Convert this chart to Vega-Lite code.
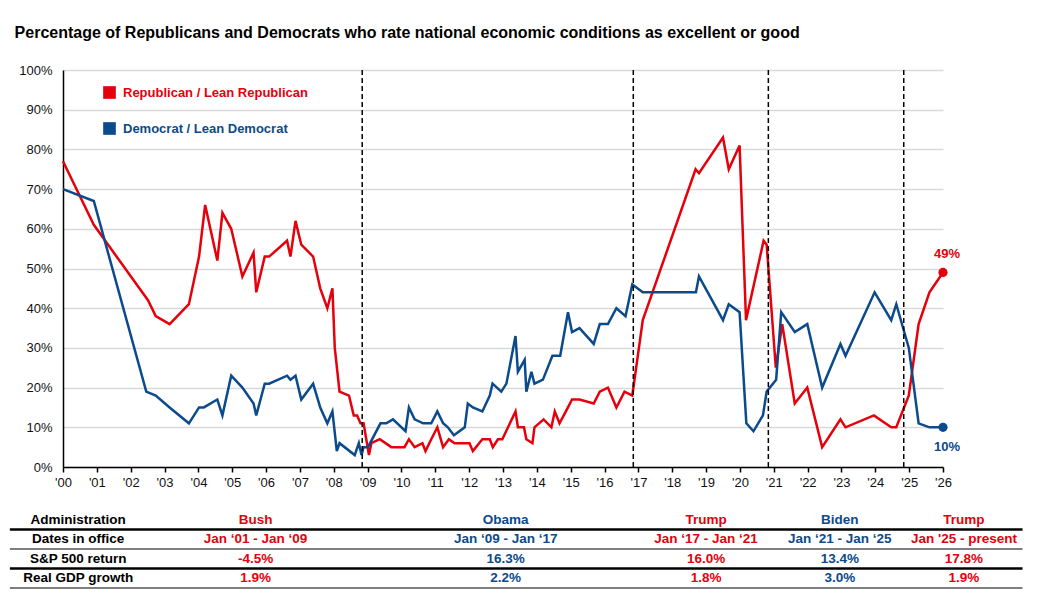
{
  "$schema": "https://vega.github.io/schema/vega-lite/v6.json",
  "padding": {"left": 8, "top": 25, "right": 10, "bottom": 5},
  "title": {
    "text": "Percentage of Republicans and Democrats who rate national economic conditions as excellent or good",
    "anchor": "start",
    "fontSize": 16,
    "fontWeight": "bold",
    "color": "#000000",
    "offset": 23,
    "dx": 6
  },
  "config": {
    "font": "Liberation Sans",
    "view": {"stroke": null}
  },
  "datasets": {
    "survey": [
      {"party": "Republican / Lean Republican", "year": 2000.0, "pct": 0.77},
      {"party": "Republican / Lean Republican", "year": 2000.91, "pct": 0.61},
      {"party": "Republican / Lean Republican", "year": 2002.51, "pct": 0.42},
      {"party": "Republican / Lean Republican", "year": 2002.74, "pct": 0.38},
      {"party": "Republican / Lean Republican", "year": 2003.15, "pct": 0.36},
      {"party": "Republican / Lean Republican", "year": 2003.72, "pct": 0.41},
      {"party": "Republican / Lean Republican", "year": 2004.02, "pct": 0.53},
      {"party": "Republican / Lean Republican", "year": 2004.2, "pct": 0.66},
      {"party": "Republican / Lean Republican", "year": 2004.56, "pct": 0.52},
      {"party": "Republican / Lean Republican", "year": 2004.71, "pct": 0.64},
      {"party": "Republican / Lean Republican", "year": 2004.97, "pct": 0.60},
      {"party": "Republican / Lean Republican", "year": 2005.3, "pct": 0.48},
      {"party": "Republican / Lean Republican", "year": 2005.63, "pct": 0.54},
      {"party": "Republican / Lean Republican", "year": 2005.71, "pct": 0.44},
      {"party": "Republican / Lean Republican", "year": 2005.96, "pct": 0.53},
      {"party": "Republican / Lean Republican", "year": 2006.09, "pct": 0.53},
      {"party": "Republican / Lean Republican", "year": 2006.62, "pct": 0.57},
      {"party": "Republican / Lean Republican", "year": 2006.72, "pct": 0.53},
      {"party": "Republican / Lean Republican", "year": 2006.87, "pct": 0.62},
      {"party": "Republican / Lean Republican", "year": 2007.04, "pct": 0.56},
      {"party": "Republican / Lean Republican", "year": 2007.39, "pct": 0.53},
      {"party": "Republican / Lean Republican", "year": 2007.6, "pct": 0.45},
      {"party": "Republican / Lean Republican", "year": 2007.81, "pct": 0.40},
      {"party": "Republican / Lean Republican", "year": 2007.96, "pct": 0.45},
      {"party": "Republican / Lean Republican", "year": 2008.03, "pct": 0.30},
      {"party": "Republican / Lean Republican", "year": 2008.17, "pct": 0.19},
      {"party": "Republican / Lean Republican", "year": 2008.45, "pct": 0.18},
      {"party": "Republican / Lean Republican", "year": 2008.59, "pct": 0.13},
      {"party": "Republican / Lean Republican", "year": 2008.69, "pct": 0.13},
      {"party": "Republican / Lean Republican", "year": 2008.79, "pct": 0.11},
      {"party": "Republican / Lean Republican", "year": 2008.88, "pct": 0.11},
      {"party": "Republican / Lean Republican", "year": 2009.04, "pct": 0.03},
      {"party": "Republican / Lean Republican", "year": 2009.11, "pct": 0.06},
      {"party": "Republican / Lean Republican", "year": 2009.36, "pct": 0.07},
      {"party": "Republican / Lean Republican", "year": 2009.7, "pct": 0.05},
      {"party": "Republican / Lean Republican", "year": 2010.09, "pct": 0.05},
      {"party": "Republican / Lean Republican", "year": 2010.22, "pct": 0.07},
      {"party": "Republican / Lean Republican", "year": 2010.39, "pct": 0.05},
      {"party": "Republican / Lean Republican", "year": 2010.62, "pct": 0.06},
      {"party": "Republican / Lean Republican", "year": 2010.71, "pct": 0.04},
      {"party": "Republican / Lean Republican", "year": 2010.88, "pct": 0.07},
      {"party": "Republican / Lean Republican", "year": 2011.06, "pct": 0.10},
      {"party": "Republican / Lean Republican", "year": 2011.23, "pct": 0.05},
      {"party": "Republican / Lean Republican", "year": 2011.4, "pct": 0.07},
      {"party": "Republican / Lean Republican", "year": 2011.57, "pct": 0.06},
      {"party": "Republican / Lean Republican", "year": 2012.01, "pct": 0.06},
      {"party": "Republican / Lean Republican", "year": 2012.11, "pct": 0.04},
      {"party": "Republican / Lean Republican", "year": 2012.39, "pct": 0.07},
      {"party": "Republican / Lean Republican", "year": 2012.61, "pct": 0.07},
      {"party": "Republican / Lean Republican", "year": 2012.7, "pct": 0.05},
      {"party": "Republican / Lean Republican", "year": 2012.85, "pct": 0.07},
      {"party": "Republican / Lean Republican", "year": 2012.98, "pct": 0.07},
      {"party": "Republican / Lean Republican", "year": 2013.37, "pct": 0.14},
      {"party": "Republican / Lean Republican", "year": 2013.44, "pct": 0.10},
      {"party": "Republican / Lean Republican", "year": 2013.62, "pct": 0.10},
      {"party": "Republican / Lean Republican", "year": 2013.69, "pct": 0.07},
      {"party": "Republican / Lean Republican", "year": 2013.87, "pct": 0.06},
      {"party": "Republican / Lean Republican", "year": 2013.93, "pct": 0.10},
      {"party": "Republican / Lean Republican", "year": 2014.2, "pct": 0.12},
      {"party": "Republican / Lean Republican", "year": 2014.43, "pct": 0.10},
      {"party": "Republican / Lean Republican", "year": 2014.53, "pct": 0.14},
      {"party": "Republican / Lean Republican", "year": 2014.67, "pct": 0.11},
      {"party": "Republican / Lean Republican", "year": 2014.92, "pct": 0.15},
      {"party": "Republican / Lean Republican", "year": 2015.04, "pct": 0.17},
      {"party": "Republican / Lean Republican", "year": 2015.26, "pct": 0.17},
      {"party": "Republican / Lean Republican", "year": 2015.68, "pct": 0.16},
      {"party": "Republican / Lean Republican", "year": 2015.86, "pct": 0.19},
      {"party": "Republican / Lean Republican", "year": 2016.1, "pct": 0.20},
      {"party": "Republican / Lean Republican", "year": 2016.35, "pct": 0.15},
      {"party": "Republican / Lean Republican", "year": 2016.59, "pct": 0.19},
      {"party": "Republican / Lean Republican", "year": 2016.82, "pct": 0.18},
      {"party": "Republican / Lean Republican", "year": 2017.13, "pct": 0.37},
      {"party": "Republican / Lean Republican", "year": 2018.69, "pct": 0.75},
      {"party": "Republican / Lean Republican", "year": 2018.79, "pct": 0.74},
      {"party": "Republican / Lean Republican", "year": 2019.5, "pct": 0.83},
      {"party": "Republican / Lean Republican", "year": 2019.67, "pct": 0.75},
      {"party": "Republican / Lean Republican", "year": 2019.99, "pct": 0.81},
      {"party": "Republican / Lean Republican", "year": 2020.18, "pct": 0.37},
      {"party": "Republican / Lean Republican", "year": 2020.7, "pct": 0.57},
      {"party": "Republican / Lean Republican", "year": 2020.79, "pct": 0.56},
      {"party": "Republican / Lean Republican", "year": 2021.06, "pct": 0.25},
      {"party": "Republican / Lean Republican", "year": 2021.25, "pct": 0.36},
      {"party": "Republican / Lean Republican", "year": 2021.62, "pct": 0.16},
      {"party": "Republican / Lean Republican", "year": 2021.99, "pct": 0.20},
      {"party": "Republican / Lean Republican", "year": 2022.43, "pct": 0.05},
      {"party": "Republican / Lean Republican", "year": 2022.97, "pct": 0.12},
      {"party": "Republican / Lean Republican", "year": 2023.12, "pct": 0.10},
      {"party": "Republican / Lean Republican", "year": 2023.96, "pct": 0.13},
      {"party": "Republican / Lean Republican", "year": 2024.47, "pct": 0.10},
      {"party": "Republican / Lean Republican", "year": 2024.62, "pct": 0.10},
      {"party": "Republican / Lean Republican", "year": 2024.99, "pct": 0.18},
      {"party": "Republican / Lean Republican", "year": 2025.28, "pct": 0.36},
      {"party": "Republican / Lean Republican", "year": 2025.6, "pct": 0.44},
      {"party": "Republican / Lean Republican", "year": 2026.0, "pct": 0.49},
      {"party": "Democrat / Lean Democrat", "year": 2000.0, "pct": 0.70},
      {"party": "Democrat / Lean Democrat", "year": 2000.91, "pct": 0.67},
      {"party": "Democrat / Lean Democrat", "year": 2002.46, "pct": 0.19},
      {"party": "Democrat / Lean Democrat", "year": 2002.74, "pct": 0.18},
      {"party": "Democrat / Lean Democrat", "year": 2003.15, "pct": 0.15},
      {"party": "Democrat / Lean Democrat", "year": 2003.72, "pct": 0.11},
      {"party": "Democrat / Lean Democrat", "year": 2004.02, "pct": 0.15},
      {"party": "Democrat / Lean Democrat", "year": 2004.16, "pct": 0.15},
      {"party": "Democrat / Lean Democrat", "year": 2004.56, "pct": 0.17},
      {"party": "Democrat / Lean Democrat", "year": 2004.71, "pct": 0.13},
      {"party": "Democrat / Lean Democrat", "year": 2004.97, "pct": 0.23},
      {"party": "Democrat / Lean Democrat", "year": 2005.3, "pct": 0.20},
      {"party": "Democrat / Lean Democrat", "year": 2005.63, "pct": 0.16},
      {"party": "Democrat / Lean Democrat", "year": 2005.71, "pct": 0.13},
      {"party": "Democrat / Lean Democrat", "year": 2005.96, "pct": 0.21},
      {"party": "Democrat / Lean Democrat", "year": 2006.09, "pct": 0.21},
      {"party": "Democrat / Lean Democrat", "year": 2006.62, "pct": 0.23},
      {"party": "Democrat / Lean Democrat", "year": 2006.72, "pct": 0.22},
      {"party": "Democrat / Lean Democrat", "year": 2006.87, "pct": 0.23},
      {"party": "Democrat / Lean Democrat", "year": 2007.04, "pct": 0.17},
      {"party": "Democrat / Lean Democrat", "year": 2007.39, "pct": 0.21},
      {"party": "Democrat / Lean Democrat", "year": 2007.6, "pct": 0.15},
      {"party": "Democrat / Lean Democrat", "year": 2007.81, "pct": 0.11},
      {"party": "Democrat / Lean Democrat", "year": 2007.96, "pct": 0.14},
      {"party": "Democrat / Lean Democrat", "year": 2008.09, "pct": 0.04},
      {"party": "Democrat / Lean Democrat", "year": 2008.17, "pct": 0.06},
      {"party": "Democrat / Lean Democrat", "year": 2008.62, "pct": 0.03},
      {"party": "Democrat / Lean Democrat", "year": 2008.74, "pct": 0.06},
      {"party": "Democrat / Lean Democrat", "year": 2008.82, "pct": 0.03},
      {"party": "Democrat / Lean Democrat", "year": 2008.88, "pct": 0.05},
      {"party": "Democrat / Lean Democrat", "year": 2009.01, "pct": 0.05},
      {"party": "Democrat / Lean Democrat", "year": 2009.38, "pct": 0.11},
      {"party": "Democrat / Lean Democrat", "year": 2009.55, "pct": 0.11},
      {"party": "Democrat / Lean Democrat", "year": 2009.75, "pct": 0.12},
      {"party": "Democrat / Lean Democrat", "year": 2010.12, "pct": 0.09},
      {"party": "Democrat / Lean Democrat", "year": 2010.22, "pct": 0.15},
      {"party": "Democrat / Lean Democrat", "year": 2010.39, "pct": 0.12},
      {"party": "Democrat / Lean Democrat", "year": 2010.64, "pct": 0.11},
      {"party": "Democrat / Lean Democrat", "year": 2010.88, "pct": 0.11},
      {"party": "Democrat / Lean Democrat", "year": 2011.06, "pct": 0.14},
      {"party": "Democrat / Lean Democrat", "year": 2011.23, "pct": 0.11},
      {"party": "Democrat / Lean Democrat", "year": 2011.37, "pct": 0.10},
      {"party": "Democrat / Lean Democrat", "year": 2011.55, "pct": 0.08},
      {"party": "Democrat / Lean Democrat", "year": 2011.87, "pct": 0.10},
      {"party": "Democrat / Lean Democrat", "year": 2011.96, "pct": 0.16},
      {"party": "Democrat / Lean Democrat", "year": 2012.11, "pct": 0.15},
      {"party": "Democrat / Lean Democrat", "year": 2012.39, "pct": 0.14},
      {"party": "Democrat / Lean Democrat", "year": 2012.61, "pct": 0.18},
      {"party": "Democrat / Lean Democrat", "year": 2012.69, "pct": 0.21},
      {"party": "Democrat / Lean Democrat", "year": 2012.95, "pct": 0.19},
      {"party": "Democrat / Lean Democrat", "year": 2013.1, "pct": 0.21},
      {"party": "Democrat / Lean Democrat", "year": 2013.37, "pct": 0.33},
      {"party": "Democrat / Lean Democrat", "year": 2013.44, "pct": 0.24},
      {"party": "Democrat / Lean Democrat", "year": 2013.64, "pct": 0.27},
      {"party": "Democrat / Lean Democrat", "year": 2013.69, "pct": 0.19},
      {"party": "Democrat / Lean Democrat", "year": 2013.84, "pct": 0.24},
      {"party": "Democrat / Lean Democrat", "year": 2013.93, "pct": 0.21},
      {"party": "Democrat / Lean Democrat", "year": 2014.18, "pct": 0.22},
      {"party": "Democrat / Lean Democrat", "year": 2014.46, "pct": 0.28},
      {"party": "Democrat / Lean Democrat", "year": 2014.69, "pct": 0.28},
      {"party": "Democrat / Lean Democrat", "year": 2014.92, "pct": 0.39},
      {"party": "Democrat / Lean Democrat", "year": 2015.04, "pct": 0.34},
      {"party": "Democrat / Lean Democrat", "year": 2015.26, "pct": 0.35},
      {"party": "Democrat / Lean Democrat", "year": 2015.68, "pct": 0.31},
      {"party": "Democrat / Lean Democrat", "year": 2015.86, "pct": 0.36},
      {"party": "Democrat / Lean Democrat", "year": 2016.1, "pct": 0.36},
      {"party": "Democrat / Lean Democrat", "year": 2016.35, "pct": 0.40},
      {"party": "Democrat / Lean Democrat", "year": 2016.62, "pct": 0.38},
      {"party": "Democrat / Lean Democrat", "year": 2016.82, "pct": 0.46},
      {"party": "Democrat / Lean Democrat", "year": 2017.13, "pct": 0.44},
      {"party": "Democrat / Lean Democrat", "year": 2018.7, "pct": 0.44},
      {"party": "Democrat / Lean Democrat", "year": 2018.79, "pct": 0.48},
      {"party": "Democrat / Lean Democrat", "year": 2019.5, "pct": 0.37},
      {"party": "Democrat / Lean Democrat", "year": 2019.67, "pct": 0.41},
      {"party": "Democrat / Lean Democrat", "year": 2019.99, "pct": 0.39},
      {"party": "Democrat / Lean Democrat", "year": 2020.19, "pct": 0.11},
      {"party": "Democrat / Lean Democrat", "year": 2020.4, "pct": 0.09},
      {"party": "Democrat / Lean Democrat", "year": 2020.68, "pct": 0.13},
      {"party": "Democrat / Lean Democrat", "year": 2020.79, "pct": 0.19},
      {"party": "Democrat / Lean Democrat", "year": 2021.07, "pct": 0.22},
      {"party": "Democrat / Lean Democrat", "year": 2021.22, "pct": 0.39},
      {"party": "Democrat / Lean Democrat", "year": 2021.62, "pct": 0.34},
      {"party": "Democrat / Lean Democrat", "year": 2021.99, "pct": 0.36},
      {"party": "Democrat / Lean Democrat", "year": 2022.43, "pct": 0.20},
      {"party": "Democrat / Lean Democrat", "year": 2022.97, "pct": 0.31},
      {"party": "Democrat / Lean Democrat", "year": 2023.12, "pct": 0.28},
      {"party": "Democrat / Lean Democrat", "year": 2023.98, "pct": 0.44},
      {"party": "Democrat / Lean Democrat", "year": 2024.47, "pct": 0.37},
      {"party": "Democrat / Lean Democrat", "year": 2024.62, "pct": 0.41},
      {"party": "Democrat / Lean Democrat", "year": 2024.99, "pct": 0.30},
      {"party": "Democrat / Lean Democrat", "year": 2025.28, "pct": 0.11},
      {"party": "Democrat / Lean Democrat", "year": 2025.6, "pct": 0.10},
      {"party": "Democrat / Lean Democrat", "year": 2026.0, "pct": 0.10}
    ],
    "elections": [
      {"year": 2008.84, "label": "Election Day"},
      {"year": 2016.85, "label": ""},
      {"year": 2020.84, "label": ""},
      {"year": 2024.84, "label": ""}
    ],
    "cells": [
      {"row": "Administration", "at": 2000.45, "side": "label", "text": "Administration"},
      {"row": "Administration", "at": 2005.69, "side": "Republican", "text": "Bush"},
      {"row": "Administration", "at": 2013.08, "side": "Democrat", "text": "Obama"},
      {"row": "Administration", "at": 2019.0, "side": "Republican", "text": "Trump"},
      {"row": "Administration", "at": 2022.95, "side": "Democrat", "text": "Biden"},
      {"row": "Administration", "at": 2026.62, "side": "Republican", "text": "Trump"},
      {"row": "Dates in office", "at": 2000.45, "side": "label", "text": "Dates in office"},
      {"row": "Dates in office", "at": 2005.69, "side": "Republican", "text": "Jan ‘01 - Jan ‘09"},
      {"row": "Dates in office", "at": 2013.08, "side": "Democrat", "text": "Jan ‘09 - Jan ‘17"},
      {"row": "Dates in office", "at": 2019.0, "side": "Republican", "text": "Jan ‘17 - Jan ‘21"},
      {"row": "Dates in office", "at": 2022.95, "side": "Democrat", "text": "Jan ‘21 - Jan ‘25"},
      {"row": "Dates in office", "at": 2026.62, "side": "Republican", "text": "Jan '25 - present"},
      {"row": "S&P 500 return", "at": 2000.45, "side": "label", "text": "S&P 500 return"},
      {"row": "S&P 500 return", "at": 2005.69, "side": "Republican", "text": "-4.5%"},
      {"row": "S&P 500 return", "at": 2013.08, "side": "Democrat", "text": "16.3%"},
      {"row": "S&P 500 return", "at": 2019.0, "side": "Republican", "text": "16.0%"},
      {"row": "S&P 500 return", "at": 2022.95, "side": "Democrat", "text": "13.4%"},
      {"row": "S&P 500 return", "at": 2026.62, "side": "Republican", "text": "17.8%"},
      {"row": "Real GDP growth", "at": 2000.45, "side": "label", "text": "Real GDP growth"},
      {"row": "Real GDP growth", "at": 2005.69, "side": "Republican", "text": "1.9%"},
      {"row": "Real GDP growth", "at": 2013.08, "side": "Democrat", "text": "2.2%"},
      {"row": "Real GDP growth", "at": 2019.0, "side": "Republican", "text": "1.8%"},
      {"row": "Real GDP growth", "at": 2022.95, "side": "Democrat", "text": "3.0%"},
      {"row": "Real GDP growth", "at": 2026.62, "side": "Republican", "text": "1.9%"}
    ],
    "borders": [
      {"row": "Administration", "weight": "heavy"},
      {"row": "Dates in office", "weight": "light"},
      {"row": "S&P 500 return", "weight": "heavy"},
      {"row": "Real GDP growth", "weight": "light"}
    ]
  },
  "vconcat": [
    {
      "width": 880,
      "height": 397,
      "encoding": {
        "x": {
          "field": "year",
          "type": "quantitative",
          "scale": {"domain": [2000, 2026], "nice": false, "zero": false},
          "axis": {
            "title": null,
            "values": [2000, 2001, 2002, 2003, 2004, 2005, 2006, 2007, 2008, 2009, 2010, 2011, 2012, 2013, 2014, 2015, 2016, 2017, 2018, 2019, 2020, 2021, 2022, 2023, 2024, 2025, 2026],
            "tickCount": 60,
            "format": "d",
            "labelExpr": "\"'\" + slice(datum.label, 2)",
            "grid": false,
            "domainColor": "#000000",
            "domainWidth": 1.5,
            "tickColor": "#000000",
            "tickWidth": 1.5,
            "tickSize": 5,
            "labelFontSize": 13,
            "labelColor": "#111111",
            "labelPadding": 4,
            "labelFlush": false,
            "labelOverlap": false
          }
        },
        "y": {
          "field": "pct",
          "type": "quantitative",
          "scale": {"domain": [0, 1], "nice": false},
          "axis": {
            "title": null,
            "values": [0, 0.1, 0.2, 0.3, 0.4, 0.5, 0.6, 0.7, 0.8, 0.9, 1],
            "tickCount": 30,
            "format": ".0%",
            "grid": true,
            "ticks": false,
            "domainColor": "#000000",
            "domainWidth": 1.5,
            "gridColor": "#d9d9d9",
            "gridWidth": 1.5,
            "labelFontSize": 13,
            "labelColor": "#111111",
            "labelPadding": 11,
            "labelOverlap": false
          }
        }
      },
      "layer": [
        {
          "data": {"name": "survey"},
          "mark": {"type": "line", "strokeWidth": 2.5},
          "encoding": {
            "color": {
              "field": "party",
              "type": "nominal",
              "scale": {
                "domain": ["Republican / Lean Republican", "Democrat / Lean Democrat"],
                "range": ["#e5000b", "#0b4a8b"]
              },
              "legend": {
                "title": null,
                "orient": "none",
                "legendX": 40,
                "legendY": 16,
                "padding": 0,
                "symbolType": "square",
                "symbolSize": 160,
                "symbolStrokeWidth": 0,
                "labelFontSize": 13,
                "labelFontWeight": "bold",
                "labelLimit": 0,
                "labelOffset": 7,
                "rowPadding": 22,
                "encode": {
                  "symbols": {
                    "update": {
                      "fill": {"signal": "datum.value === 'Republican / Lean Republican' ? '#e5000b' : '#0b4a8b'"},
                      "stroke": {"value": "transparent"},
                      "shape": {"value": "square"},
                      "opacity": {"value": 1}
                    }
                  },
                  "labels": {
                    "update": {
                      "fill": {"signal": "datum.value === 'Republican / Lean Republican' ? '#e5000b' : '#0b4a8b'"}
                    }
                  }
                }
              }
            }
          }
        },
        {
          "data": {"name": "elections"},
          "mark": {"type": "rule", "color": "#000000", "strokeWidth": 1.5, "strokeDash": [5, 3]},
          "encoding": {"y": null}
        },
        {
          "data": {"name": "elections"},
          "mark": {"type": "text", "align": "left", "baseline": "middle", "dx": 10, "fontSize": 12, "color": "#000000"},
          "encoding": {
            "y": {
              "datum": 0.65,
              "type": "quantitative",
              "axis": {
                "title": null,
                "values": [0, 0.1, 0.2, 0.3, 0.4, 0.5, 0.6, 0.7, 0.8, 0.9, 1],
                "tickCount": 30,
                "format": ".0%",
                "grid": true,
                "ticks": false,
                "domainColor": "#000000",
                "domainWidth": 1.5,
                "gridColor": "#d9d9d9",
                "gridWidth": 1.5,
                "labelFontSize": 13,
                "labelColor": "#111111",
                "labelPadding": 11,
                "labelOverlap": false
              }
            },
            "text": {"field": "label"}
          }
        },
        {
          "data": {"name": "survey"},
          "transform": [{"filter": "datum.year === 2026"}],
          "mark": {"type": "point", "filled": true, "opacity": 1, "size": 85},
          "encoding": {
            "color": {"field": "party", "type": "nominal"}
          }
        },
        {
          "data": {"name": "survey"},
          "transform": [{"filter": "datum.year === 2026 && datum.party === 'Republican / Lean Republican'"}],
          "mark": {"type": "text", "fontSize": 13, "fontWeight": "bold", "baseline": "middle", "dx": 4, "dy": -18},
          "encoding": {
            "text": {"field": "pct", "format": ".0%"},
            "color": {"field": "party", "type": "nominal"}
          }
        },
        {
          "data": {"name": "survey"},
          "transform": [{"filter": "datum.year === 2026 && datum.party === 'Democrat / Lean Democrat'"}],
          "mark": {"type": "text", "fontSize": 13, "fontWeight": "bold", "baseline": "middle", "dx": 4, "dy": 20},
          "encoding": {
            "text": {"field": "pct", "format": ".0%"},
            "color": {"field": "party", "type": "nominal"}
          }
        }
      ]
    },
    {
      "width": 880,
      "height": 78,
      "layer": [
        {
          "data": {"name": "borders"},
          "mark": {"type": "rule", "color": "#000000"},
          "encoding": {
            "x": {"datum": 1998.43, "type": "quantitative", "scale": {"domain": [2000, 2026], "nice": false, "zero": false}, "axis": null},
            "x2": {"datum": 2028.35},
            "y": {
              "field": "row",
              "type": "ordinal",
              "bandPosition": 1,
              "sort": ["Administration", "Dates in office", "S&P 500 return", "Real GDP growth"],
              "scale": {"paddingInner": 0, "paddingOuter": 0},
              "axis": null
            },
            "strokeWidth": {
              "field": "weight",
              "type": "nominal",
              "scale": {"domain": ["heavy", "light"], "range": [2.5, 1.2]},
              "legend": null
            }
          }
        },
        {
          "data": {"name": "cells"},
          "mark": {"type": "text", "fontSize": 13.5, "fontWeight": "bold", "baseline": "middle", "align": "center"},
          "encoding": {
            "x": {"field": "at", "type": "quantitative"},
            "y": {
              "field": "row",
              "type": "ordinal",
              "sort": ["Administration", "Dates in office", "S&P 500 return", "Real GDP growth"]
            },
            "text": {"field": "text"},
            "color": {
              "field": "side",
              "type": "nominal",
              "scale": {"domain": ["label", "Republican", "Democrat"], "range": ["#000000", "#e5000b", "#0b4a8b"]},
              "legend": null
            }
          }
        }
      ]
    }
  ],
  "spacing": 21,
  "resolve": {"scale": {"color": "independent", "x": "independent"}, "legend": {"color": "independent"}}
}
